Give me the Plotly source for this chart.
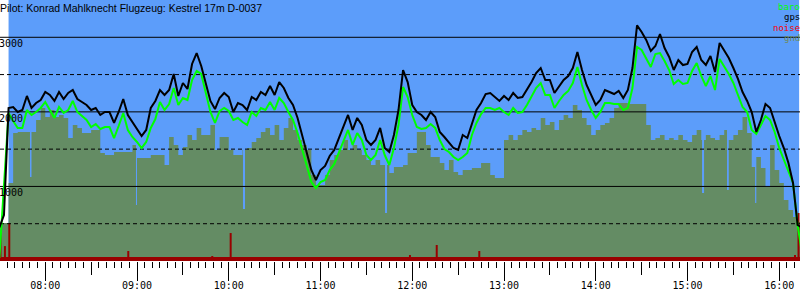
import pandas as pd
import plotly.graph_objects as go

DAY = "2009-06-14"
series_start = "07:30"
step_minutes = 3

gps_alt = [
    450, 617, 2052, 2065, 1998, 2025, 2213, 2052, 2119, 2159,
    2266, 2226, 2146, 2266, 2172, 2253, 2293, 2172, 2132, 2092,
    2025, 2052, 1958, 1998, 1998, 1851, 1998, 2172, 1958, 1864,
    1757, 1676, 1757, 2052, 2146, 2293, 2226, 2293, 2508, 2213,
    2387, 2307, 2642, 2789, 2615, 2360, 2146, 2038, 2186, 2253,
    2199, 1998, 2119, 2092, 2025, 2199, 2159, 2266, 2226, 2347,
    2226, 2400, 2320, 2186, 2092, 1918, 1690, 1462, 1220, 1086,
    1220, 1274, 1408, 1489, 1649, 1824, 1958, 1757, 1918, 1824,
    1623, 1556, 1623, 1784, 1515, 1462, 1690, 2025, 2561, 2400,
    2092, 1998, 1958, 1891, 1998, 1931, 1730, 1663, 1596, 1515,
    1489, 1690, 1649, 1851, 2025, 2119, 2239, 2253, 2199, 2146,
    2213, 2159, 2253, 2186, 2199, 2293, 2400, 2521, 2588, 2427,
    2427, 2253, 2347, 2427, 2481, 2588, 2803, 2561, 2360, 2226,
    2092, 2159, 2293, 2266, 2239, 2280, 2186, 2293, 2588, 3160,
    3071, 2964, 2816, 2883, 3044, 2856, 2736, 2561, 2695, 2628,
    2642, 2803, 2870, 2695, 2628, 2749, 2534, 2923, 2830, 2722,
    2588, 2441, 2266, 2146, 1998, 1730, 1891, 2105, 2052, 1851,
    1676, 1515, 1314, 1046, 483, 450,
]

baro_alt = [
    40, 952, 1985, 1877, 1784, 1784, 2025, 1958, 1998, 2052,
    2132, 2025, 1918, 2065, 1985, 2025, 2146, 1998, 1944, 1891,
    1797, 1837, 1770, 1797, 1797, 1649, 1810, 1985, 1757, 1663,
    1596, 1515, 1596, 1784, 1904, 2132, 2025, 2105, 2320, 2092,
    2186, 2159, 2427, 2548, 2508, 2253, 1998, 1851, 2011, 2052,
    2011, 1891, 1918, 1864, 1824, 1998, 1944, 2052, 2025, 2132,
    2025, 2186, 2119, 1998, 1891, 1716, 1489, 1261, 1059, 979,
    1059, 1086, 1220, 1301, 1462, 1623, 1757, 1556, 1716, 1623,
    1421, 1354, 1421, 1623, 1421, 1287, 1515, 1824, 2333, 2199,
    1958, 1797, 1770, 1784, 1837, 1784, 1623, 1502, 1462, 1395,
    1354, 1395, 1448, 1690, 1851, 1971, 2052, 2052, 2025, 2052,
    1998, 1958, 2052, 1985, 1998, 2092, 2199, 2320, 2387, 2226,
    2226, 2052, 2146, 2226, 2280, 2387, 2602, 2360, 2159, 2025,
    1918, 1998, 2119, 2119, 2105, 2105, 2025, 2052, 2320, 2870,
    2830, 2709, 2602, 2776, 2789, 2682, 2561, 2374, 2427, 2374,
    2387, 2548, 2655, 2481, 2347, 2481, 2293, 2709, 2615, 2508,
    2387, 2213, 2065, 1998, 1757, 1703, 1824, 1944, 1891, 1730,
    1515, 1354, 1193, 1046, 483, 80,
]

gnd_alt = [
    510, 510, 1046, 1716, 1730, 1730, 1730, 1730, 1891, 2052,
    1931, 2025, 1931, 1958, 1918, 1649, 1824, 1784, 1716, 1716,
    1757, 1757, 1448, 1421, 1421, 1462, 1462, 1462, 1462, 1556,
    1381, 1381, 1381, 1421, 1421, 1421, 1287, 1663, 1556, 1421,
    1529, 1690, 1623, 1784, 1690, 1690, 1824, 1489, 1663, 1663,
    1489, 1421, 1421, 1489, 1515, 1596, 1649, 1730, 1784, 1690,
    1824, 1623, 1784, 1918, 1757, 1623, 1556, 1489, 1153, 1019,
    1019, 1153, 1354, 1421, 1489, 1623, 1489, 1556, 1489, 1421,
    1354, 1287, 1354, 1287, 1287, 1180, 1261, 1261, 1287, 1448,
    1448, 1730, 1730, 1556, 1395, 1395, 1314, 1220, 1354, 1193,
    1153, 1220, 1220, 1247, 1247, 1314, 1314, 1153, 1113, 1113,
    1623, 1690, 1623, 1690, 1757, 1730, 1784, 1757, 1918, 1824,
    1864, 1757, 1891, 1958, 1918, 2092, 2025, 1918, 1824, 1690,
    1757, 1824, 1850, 1918, 2052, 2119, 2119, 2105, 2105, 2105,
    2105, 1824, 1623, 1649, 1690, 1623, 1649, 1623, 1690, 1623,
    1596, 1690, 1757, 1623, 1690, 1649, 1623, 1690, 1757, 1623,
    1690, 1757, 1931, 1716, 1261, 1395, 1247, 992, 1556, 1220,
    1046, 818, 684, 590, 523, 523,
]

# narrow valleys in the terrain profile (time, elevation)
gnd_dip_time = ["07:50:00", "08:59:19", "10:09:18", "11:42:11", "15:09:30", "15:25:50", "15:44:12"]
gnd_dip_alt = [1126, 751, 697, 644, 912, 952, 778]
gnd_dip_seconds = 80

noise_time = ["07:30:42", "07:33:38", "07:36:28", "08:54:17", "09:49:13",
              "10:01:15", "11:58:30", "12:16:00", "12:43:50", "16:10:18", "16:12:36"]
noise_level = [375, 200, 510, 134, 67, 375, 80, 215, 134, 80, 644]
noise_floor = 54

sky_span = ["07:36", "16:13"]
x_span = ["07:30:24", "16:13:34"]
alt_major = [1000, 2000, 3000]
alt_minor = [500, 1500, 2500]
alt_top = 3500
half_hour_ticks = ["08:30", "09:30", "10:30", "11:30", "12:30", "13:30", "14:30", "15:30"]

title_text = "Pilot: Konrad Mahlknecht Flugzeug: Kestrel 17m D-0037"
legend_names = ["baro", "gps", "noise", "gnd"]

SKY = "#5c9dfa"
GND = "#648c64"
NOISE_DARK = "#990000"
BARO = "#00ff00"
GPS = "#000000"
legend_colors = [BARO, GPS, "#ff0000", "#6f8a5c"]
MONO = "DejaVu Sans Mono"
PLOT_H = 261


def ts(hms):
    return f"{DAY} {hms}"


times = pd.date_range(ts(series_start), periods=len(gps_alt), freq=f"{step_minutes}min")
xr = [ts(v) for v in x_span]

# terrain as step series with narrow valleys merged in
gnd = pd.Series(gnd_alt, index=times)
pts = list(zip(times, gnd_alt))
for t, v in zip(gnd_dip_time, gnd_dip_alt):
    t0 = pd.Timestamp(ts(t))
    t1 = t0 + pd.Timedelta(seconds=gnd_dip_seconds)
    base = gnd[gnd.index <= t1].iloc[-1]
    pts += [(t0, v), (t1, base)]
pts.sort(key=lambda p: p[0])
gnd_x = [p[0] for p in pts]
gnd_y = [p[1] for p in pts]

fig = go.Figure()

# sky
fig.add_trace(go.Scatter(x=[ts(v) for v in sky_span], y=[alt_top, alt_top], mode="lines",
                         fill="tozeroy", fillcolor=SKY, line=dict(width=0, color=SKY),
                         hoverinfo="skip", showlegend=False))
# ground
fig.add_trace(go.Scatter(x=gnd_x, y=gnd_y, mode="lines", line_shape="hv",
                         fill="tozeroy", fillcolor=GND, line=dict(width=0, color=GND),
                         showlegend=False))
# noise floor band
fig.add_trace(go.Scatter(x=xr, y=[noise_floor, noise_floor], mode="lines",
                         fill="tozeroy", fillcolor=NOISE_DARK, line=dict(width=0, color=NOISE_DARK),
                         hoverinfo="skip", showlegend=False))
# noise spikes
nx, ny = [], []
for t, v in zip(noise_time, noise_level):
    nx += [ts(t), ts(t), None]
    ny += [0, v, None]
fig.add_trace(go.Scatter(x=nx, y=ny, mode="lines", line=dict(width=2, color=NOISE_DARK),
                         showlegend=False))
# grid lines
for v in alt_minor:
    fig.add_trace(go.Scatter(x=xr, y=[v, v], mode="lines",
                             line=dict(width=1, color="black", dash="4px,3px"),
                             hoverinfo="skip", showlegend=False))
for v in alt_major:
    fig.add_trace(go.Scatter(x=xr, y=[v, v], mode="lines", line=dict(width=1, color="black"),
                             hoverinfo="skip", showlegend=False))
# baro and gps
fig.add_trace(go.Scatter(x=times, y=baro_alt, mode="lines", line=dict(width=2, color=BARO),
                         name="baro", showlegend=False))
fig.add_trace(go.Scatter(x=times, y=gps_alt, mode="lines", line=dict(width=2, color=GPS),
                         name="gps", showlegend=False))
# dummy for half-hour tick axis
fig.add_trace(go.Scatter(x=xr, y=[0, 0], mode="lines", xaxis="x2", opacity=0,
                         line=dict(width=0), hoverinfo="skip", showlegend=False))

annotations = [dict(text=title_text, x=0, y=1, xref="paper", yref="paper",
                    xanchor="left", yanchor="top", showarrow=False, xshift=-2,
                    font=dict(family="Liberation Sans", size=10.5, color="black"))]
for v in alt_major:
    annotations.append(dict(text=str(v), x=0, y=v, xref="paper", yref="y",
                            xanchor="left", yanchor="top", showarrow=False, xshift=-2,
                            borderpad=0, font=dict(family=MONO, size=10, color="black")))
for i, (name, col) in enumerate(zip(legend_names, legend_colors)):
    annotations.append(dict(text=name, x=1, y=1 - (7 + 10.3 * i) / PLOT_H, xref="paper", yref="paper",
                            xanchor="right", yanchor="middle", showarrow=False, xshift=1,
                            borderpad=0, font=dict(family=MONO, size=9, color=col)))

fig.update_layout(
    width=800, height=300,
    margin=dict(l=0, r=0, t=0, b=300 - PLOT_H),
    paper_bgcolor="white", plot_bgcolor="white",
    showlegend=False,
    annotations=annotations,
    xaxis=dict(type="date", range=xr, showgrid=False, zeroline=False, showline=False,
               tick0=ts("08:00"), dtick=3600000, tickformat="%H:%M",
               ticks="outside", ticklen=19, tickwidth=1, tickcolor="black",
               ticklabelstandoff=-4,
               tickfont=dict(family=MONO, size=10, color="black"),
               minor=dict(ticks="outside", ticklen=6, tickwidth=1, tickcolor="black",
                          dtick=300000, tick0=ts("08:00"), showgrid=False)),
    xaxis2=dict(type="date", range=xr, overlaying="x", anchor="y", side="bottom",
                tickmode="array", tickvals=[ts(v) for v in half_hour_ticks],
                ticks="outside", ticklen=13, tickwidth=1, tickcolor="black",
                showticklabels=False, showgrid=False, zeroline=False, showline=False),
    yaxis=dict(range=[0, alt_top], visible=False, showgrid=False, zeroline=False),
)

fig.write_html("out.html")
